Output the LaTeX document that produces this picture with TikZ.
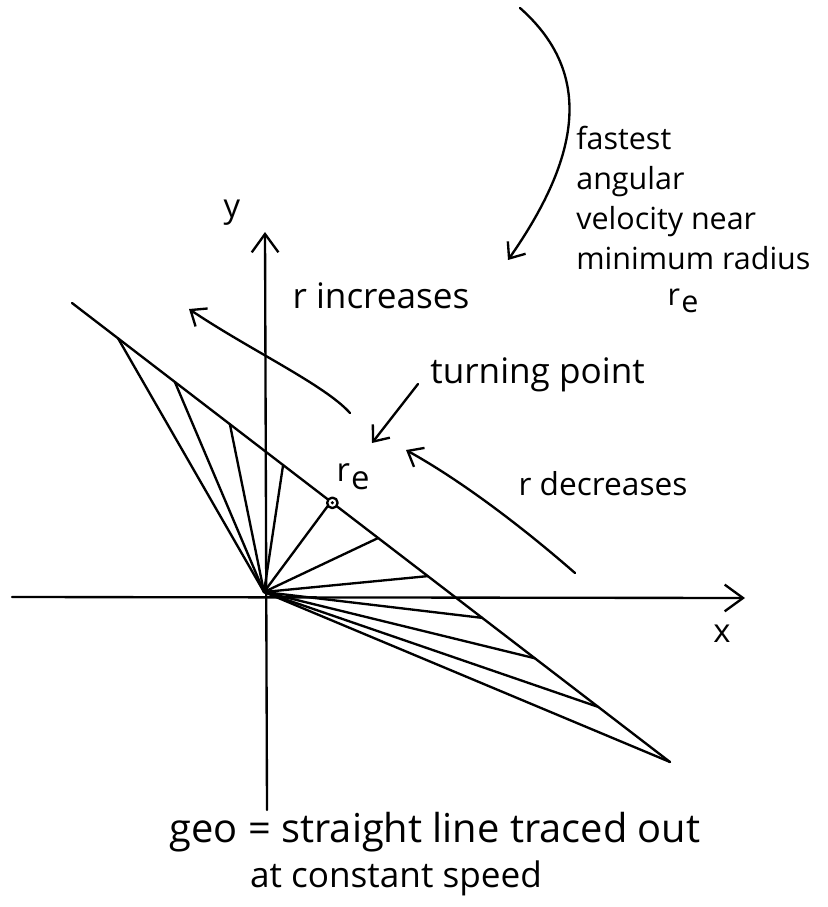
\documentclass[tikz,border=0pt]{standalone}
\usepackage{fontspec}
\setmainfont{Open Sans}
\usetikzlibrary{arrows.meta,calc,positioning}
\newcommand{\rsube}{r\kern1pt\raisebox{-0.45ex}{e}}

\begin{document}
\begin{tikzpicture}[x=0.03cm,y=-0.03cm,line width=2pt,line cap=round,line join=round,
  every node/.style={inner sep=1pt,font=\fontsize{28}{32}\selectfont},
  arr/.style={-{Straight Barb[length=4mm,width=6.5mm]}},
  axarr/.style={-{Straight Barb[length=5.5mm,width=8mm]}}]
\useasboundingbox (0,0) rectangle (827,907);
% axes
\coordinate (O) at (264,592);
\coordinate (xl) at (12,597);
\coordinate (xr) at (745,598);
\coordinate (yb) at (267,810);
\coordinate (yt) at (265,232);
\draw[axarr] (xl) -- (xr);
\draw[axarr] (yb) -- (yt);
\node (ylab) at (232,213) {y};
\node (xlab) at (722,634) {x};
% geodesic and radius vectors
\coordinate (A) at (72,303);
\coordinate (B) at (670,762);
\draw (A) -- (B);
\foreach \t in {0.077,0.172,0.264,0.353,0.433,0.512,0.595,0.686,0.774,0.880,1}
  \draw (O) -- ($(A)!\t!(B)$);
\coordinate (re) at ($(A)!(O)!(B)$);
\draw[fill=white] (re) circle[radius=4.5pt];
\fill (re) circle[radius=1.5pt];
\node (rdot) at (353,477) {\rsube};
% labels
\node[font=\fontsize{30}{36}\selectfont] (inc) at (381,296) {r increases};
\node[font=\fontsize{27}{30}\selectfont] (dec) at (603,484) {r decreases};
\node[anchor=west,font=\fontsize{30}{36}\selectfont] (tp) at (428,375) {turning point};
\node[anchor=north west,align=left,font=\fontsize{26}{34}\selectfont] (fast) at (574,124)
  {fastest\\angular\\velocity near\\minimum radius};
\node[font=\fontsize{26}{30}\selectfont] (rmin) at (683,301) {\rsube};
% arrows
\coordinate (inc1) at (350,413);
\coordinate (inc2) at (189,309);
\draw[arr] (inc1) .. controls (325,385) and (250,350) .. (inc2);
\coordinate (dec1) at (575,573);
\coordinate (dec2) at (406,450);
\draw[arr] (dec1) .. controls (520,525) and (460,480) .. (dec2);
\coordinate (tpa) at (372,443);
\draw[arr] ([shift={(-10,9)}]tp.west) -- (tpa);
\coordinate (cs) at (520,8);
\coordinate (ce) at (508,260);
\draw[arr] (cs) .. controls (590,70) and (585,150) .. (ce);
% caption
\node[font=\fontsize{34}{40}\selectfont] (geo) at (435,832) {geo = straight line traced out};
\node[font=\fontsize{30}{34}\selectfont] (speed) at (396,878) {at constant speed};
\end{tikzpicture}
\end{document}
